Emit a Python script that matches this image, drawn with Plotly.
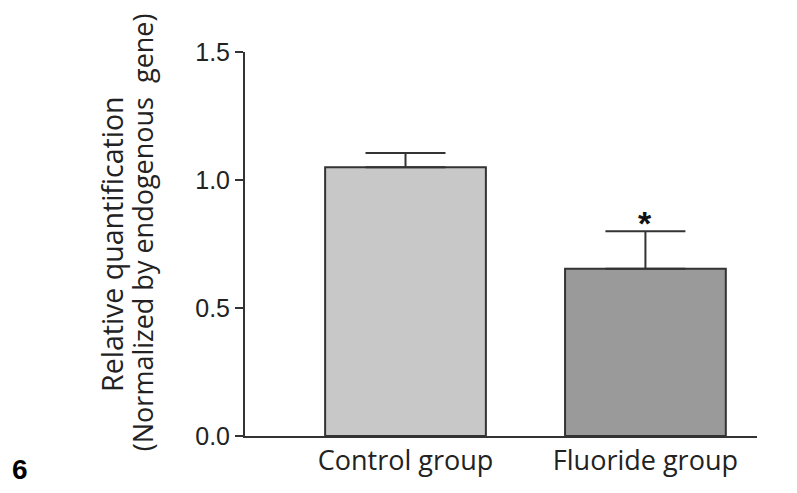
import plotly.graph_objects as go

categories = ["Control group", "Fluoride group"]
values = [1.05, 0.653]
err_up = [0.055, 0.147]
err_down = [0.0, 0.0]
bar_colors = ["#c8c8c8", "#999a99"]
y_ticks = [0.0, 0.5, 1.0, 1.5]
y_ticklabels = ["0.0", "0.5", "1.0", "1.5"]
signif = ["", "*"]

fig = go.Figure()
fig.add_trace(go.Bar(
    x=[0, 1], y=values,
    width=0.67,
    marker=dict(color=bar_colors, line=dict(color="#333333", width=2)),
    error_y=dict(type="data", symmetric=False, array=err_up, arrayminus=err_down,
                 color="#333333", thickness=2, width=40),
    showlegend=False,
))

for i, s in enumerate(signif):
    if s:
        fig.add_annotation(x=i, y=values[i] + err_up[i], text="<b>" + s + "</b>",
                           showarrow=False, yanchor="bottom", yshift=-13,
                           font=dict(family="Liberation Sans", size=34, color="#111111"))

fig.add_annotation(xref="paper", yref="paper", x=-0.260, y=0.5, textangle=-90,
                   xanchor="center", yanchor="middle",
                   text="Relative quantification", showarrow=False,
                   font=dict(family="Open Sans", size=28.5, color="#222222"))
fig.add_annotation(xref="paper", yref="paper", x=-0.201, y=0.531, textangle=-90,
                   xanchor="center", yanchor="middle",
                   text="(Normalized by endogenous  gene)", showarrow=False,
                   font=dict(family="Open Sans", size=27, color="#222222"))
fig.add_annotation(xref="paper", yref="paper", x=-0.439, y=-0.0885,
                   xanchor="center", yanchor="middle", text="<b>6</b>", showarrow=False,
                   font=dict(family="Liberation Sans", size=28, color="#000000"))

fig.update_layout(
    width=789, height=485,
    margin=dict(l=237, r=40, t=44, b=57),
    paper_bgcolor="white", plot_bgcolor="white",
    xaxis=dict(range=[-0.669, 1.465], tickvals=[0, 1], ticktext=categories,
               showline=True, linecolor="#333333", linewidth=2, ticks="",
               showgrid=False, zeroline=False,
               tickfont=dict(family="Open Sans", size=27, color="#222222")),
    yaxis=dict(range=[0, 1.5], tickvals=y_ticks, ticktext=y_ticklabels,
               showline=True, linecolor="#333333", linewidth=2,
               ticks="outside", ticklen=8, tickwidth=2, tickcolor="#333333",
               showgrid=False, zeroline=False,
               tickfont=dict(family="Liberation Sans", size=25, color="#222222")),
)

fig.write_html("out.html")
